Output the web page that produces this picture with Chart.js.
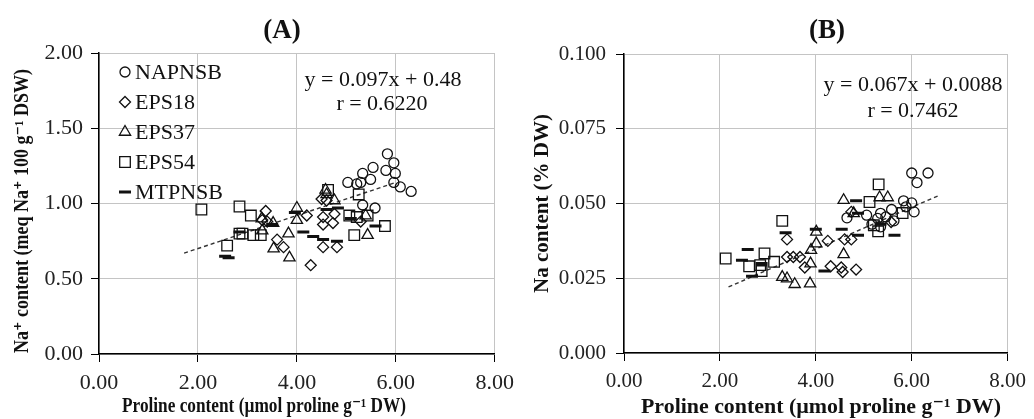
<!DOCTYPE html>
<html lang="en">
<head>
<meta charset="UTF-8">
<title>Proline and Na content</title>
<script src="https://cdn.jsdelivr.net/npm/chart.js"></script>
<style>
  body { margin: 0; background: #fff; }
  .panels { position: relative; width: 1034px; height: 419px; }
  #chartA { position: absolute; left: 0; top: 0; }
  #chartB { position: absolute; left: 522px; top: 0; }
</style>
</head>
<body>
<div class="panels">
  <canvas id="chartA" width="522" height="419"></canvas>
  <canvas id="chartB" width="512" height="419"></canvas>
</div>
<script>
const strains = ['NAPNSB', 'EPS18', 'EPS37', 'EPS54', 'MTPNSB'];
const markerStyles = ['circle', 'rectRot', 'triangle', 'rect', 'line'];
const markerSizes = [5, 5.5, 6.5, 7.5, 6];
const xTitle = 'Proline content (µmol proline g⁻¹ DW)';

// (A) proline vs Na+ (meq Na+ 100 g-1 DSW), [x, y]
const napnsbA = [[5.83,1.33],[5.96,1.27],[5.80,1.22],[5.99,1.20],[5.54,1.24],[5.49,1.16],[5.33,1.20],
  [5.29,1.14],[5.03,1.14],[5.21,1.13],[5.96,1.14],[6.09,1.11],[6.31,1.08],[5.58,0.97],[5.33,0.99]];
const eps18A = [[3.37,0.95],[3.30,0.89],[3.40,0.88],[3.60,0.76],[3.73,0.71],[4.20,0.92],[4.28,0.59],
  [4.50,1.03],[4.53,0.91],[4.53,0.86],[4.53,0.71],[4.73,0.87],[4.76,0.93],[4.81,0.71],[5.29,0.88],[4.60,1.02]];
const eps37A = [[3.29,0.90],[3.30,0.82],[3.52,0.87],[3.53,0.70],[3.83,0.80],[3.85,0.64],[4.00,0.97],
  [4.00,0.89],[4.58,1.09],[4.60,1.06],[4.76,1.02],[5.39,0.92],[5.43,0.79]];
const eps54A = [[2.07,0.96],[2.84,0.98],[3.07,0.92],[2.84,0.80],[2.90,0.80],[3.12,0.79],[3.27,0.79],
  [2.59,0.72],[4.63,1.09],[5.25,1.06],[5.06,0.92],[5.21,0.91],[5.16,0.79],[5.43,0.92],[5.78,0.85]];
const mtpnsbA = [[2.55,0.65],[2.62,0.64],[2.84,0.81],[3.50,0.86],[3.96,0.94],[4.13,0.81],[4.33,0.78],
  [4.53,0.76],[4.81,0.75],[4.60,0.96],[4.83,0.97],[5.09,0.90],[5.59,0.85]];
const trendA = [[1.72,0.67],[6.00,1.14]];

// (B) proline vs Na content (% DW), [x, y]
const napnsbB = [[6.00,0.0602],[6.34,0.0602],[6.11,0.0570],[5.83,0.0509],[6.00,0.0502],[6.05,0.0472],
  [5.88,0.0489],[5.58,0.0480],[5.35,0.0467],[5.06,0.0461],[4.65,0.0452],[5.29,0.0450],[5.46,0.0455],
  [5.63,0.0442],[5.17,0.0431],[5.35,0.0422]];
const eps18B = [[3.40,0.0380],[3.40,0.0321],[3.53,0.0321],[3.67,0.0321],[3.77,0.0286],[4.25,0.0375],
  [4.31,0.0290],[4.53,0.0286],[4.56,0.0271],[4.74,0.0380],[4.84,0.0279],[4.74,0.0472],[5.57,0.0438],[4.60,0.0380]];
const eps37B = [[3.30,0.0254],[3.40,0.0249],[3.56,0.0230],[3.88,0.0232],[3.89,0.0299],[3.90,0.0344],
  [4.01,0.0366],[4.01,0.0405],[4.58,0.0330],[4.58,0.0511],[5.33,0.0520],[5.50,0.0520],[4.79,0.0467]];
const eps54B = [[2.12,0.0316],[2.61,0.0290],[2.93,0.0333],[2.84,0.0294],[2.87,0.0274],[3.13,0.0305],
  [3.30,0.0442],[5.31,0.0564],[5.12,0.0505],[5.30,0.0407],[5.81,0.0468],[5.21,0.0427]];
const mtpnsbB = [[2.58,0.0346],[2.46,0.0310],[2.67,0.0257],[2.87,0.0299],[3.37,0.0402],[4.00,0.0414],
  [4.18,0.0274],[4.54,0.0414],[4.84,0.0509],[4.88,0.0394],[5.64,0.0394],[4.88,0.0467],[5.35,0.0431]];
const trendB = [[2.18,0.0221],[6.54,0.0525]];

const serif = '"Liberation Serif", "DejaVu Serif", serif';
const ink = '#111';

function toPoints(arr) {
  return arr.map(p => ({ x: p[0], y: p[1] }));
}

function buildDatasets(groups, trend) {
  const sets = groups.map((g, i) => ({
    label: strains[i],
    data: toPoints(g),
    pointStyle: markerStyles[i],
    pointRadius: markerSizes[i],
    pointBorderWidth: markerStyles[i] === 'line' ? 3 : 1.3,
    pointBorderColor: ink,
    pointBackgroundColor: 'rgba(0,0,0,0)',
    showLine: false
  }));
  sets.push({
    label: 'trend',
    data: toPoints(trend),
    showLine: true,
    borderColor: '#333',
    borderWidth: 1.4,
    borderDash: [4, 3],
    pointRadius: 0
  });
  return sets;
}

function drawMarker(ctx, style, x, y, r) {
  ctx.beginPath();
  if (style === 'circle') {
    ctx.arc(x, y, r, 0, Math.PI * 2);
  } else if (style === 'rectRot') {
    ctx.moveTo(x, y - r); ctx.lineTo(x + r, y); ctx.lineTo(x, y + r); ctx.lineTo(x - r, y); ctx.closePath();
  } else if (style === 'triangle') {
    const h = r * Math.sqrt(3) / 2;
    ctx.moveTo(x, y - r); ctx.lineTo(x + h, y + r / 2); ctx.lineTo(x - h, y + r / 2); ctx.closePath();
  } else if (style === 'rect') {
    const s = r * Math.SQRT1_2;
    ctx.rect(x - s, y - s, 2 * s, 2 * s);
  } else {
    ctx.moveTo(x - r, y); ctx.lineTo(x + r, y);
  }
  ctx.lineWidth = style === 'line' ? 3 : 1.3;
  ctx.strokeStyle = ink;
  ctx.stroke();
}

// panel letter, axis titles, regression text and the in-plot legend
const panelText = {
  id: 'panelText',
  afterDraw(chart, args, opts) {
    const ctx = chart.ctx;
    ctx.save();
    ctx.fillStyle = ink;
    ctx.textAlign = 'center';
    ctx.textBaseline = 'middle';
    ctx.font = 'bold 27px ' + serif;
    ctx.fillText(opts.letter, opts.letterX, 31);
    ctx.font = 'bold ' + opts.xTitleSize + 'px ' + serif;
    ctx.fillText(xTitle, opts.xTitleX, 407, opts.xTitleWidth);
    if (opts.yTitle) {
      ctx.save();
      ctx.translate(opts.yTitleX, opts.yTitleY);
      ctx.rotate(-Math.PI / 2);
      ctx.fillText(opts.yTitle, 0, 0, opts.yTitleWidth);
      ctx.restore();
    }
    ctx.font = '22px ' + serif;
    opts.notes.forEach(n => ctx.fillText(n.text, n.x, n.y));
    if (opts.legend) {
      ctx.textAlign = 'left';
      strains.forEach((s, i) => {
        const y = 72 + i * 30;
        drawMarker(ctx, markerStyles[i], 125, y, markerSizes[i]);
        ctx.fillStyle = ink;
        ctx.fillText(s, 135, y + 1);
      });
    }
    ctx.restore();
  }
};

function axisOpts(min, max, step, digits, labelSize, pad, title, titleSize, titlePad, fit) {
  return {
    type: 'linear',
    min: min,
    max: max,
    ticks: {
      stepSize: step,
      callback: v => Number(v).toFixed(digits),
      font: { family: serif, size: labelSize },
      color: '#222',
      padding: pad
    },
    grid: { color: '#c4c4c4', tickColor: '#000', tickLength: 8, lineWidth: 1 },
    border: { color: '#000', width: 1.5 },
    title: {
      display: !!title,
      text: title,
      color: ink,
      font: { family: serif, size: titleSize, weight: 'bold', lineHeight: 1.2 },
      padding: titlePad
    },
    afterFit: fit
  };
}

function makeChart(id, datasets, scales, padding, textOpts) {
  return new Chart(document.getElementById(id), {
    type: 'scatter',
    data: { datasets: datasets },
    options: {
      responsive: false,
      animation: false,
      devicePixelRatio: 1,
      layout: { padding: padding },
      plugins: {
        legend: { display: false },
        tooltip: { enabled: false },
        panelText: textOpts
      },
      scales: scales
    },
    plugins: [panelText]
  });
}

makeChart('chartA',
  buildDatasets([napnsbA, eps18A, eps37A, eps54A, mtpnsbA], trendA),
  {
    x: axisOpts(0, 8, 2, 2, 22, 8, '', 17.5, 0, s => { s.height = 65; }),
    y: axisOpts(0, 2, 0.5, 2, 22, 8, '', 17.5, 0, s => { s.width = 99; })
  },
  { left: 0, top: 53, right: 23, bottom: 0 },
  {
    letter: '(A)', letterX: 282, legend: true,
    xTitleX: 264, xTitleSize: 20, xTitleWidth: 284,
    yTitle: 'Na⁺ content (meq Na⁺ 100 g⁻¹ DSW)', yTitleX: 23, yTitleY: 211, yTitleWidth: 284,
    notes: [{ text: 'y = 0.097x + 0.48', x: 383, y: 80 }, { text: 'r = 0.6220', x: 382, y: 104 }]
  });

makeChart('chartB',
  buildDatasets([napnsbB, eps18B, eps37B, eps54B, mtpnsbB], trendB),
  {
    x: axisOpts(0, 8, 2, 2, 21, 8, '', 21, 0, s => { s.height = 66; }),
    y: axisOpts(0, 0.1, 0.025, 3, 21, 10, 'Na content (% DW)', 21,
      { top: 8, bottom: 0 }, s => { s.width = 102; })
  },
  { left: 0, top: 54, right: 23, bottom: 0 },
  {
    letter: '(B)', letterX: 305, legend: false,
    xTitleX: 299, xTitleSize: 22, xTitleWidth: 360,
    notes: [{ text: 'y = 0.067x + 0.0088', x: 391, y: 85 }, { text: 'r = 0.7462', x: 391, y: 111 }]
  });
</script>
</body>
</html>
